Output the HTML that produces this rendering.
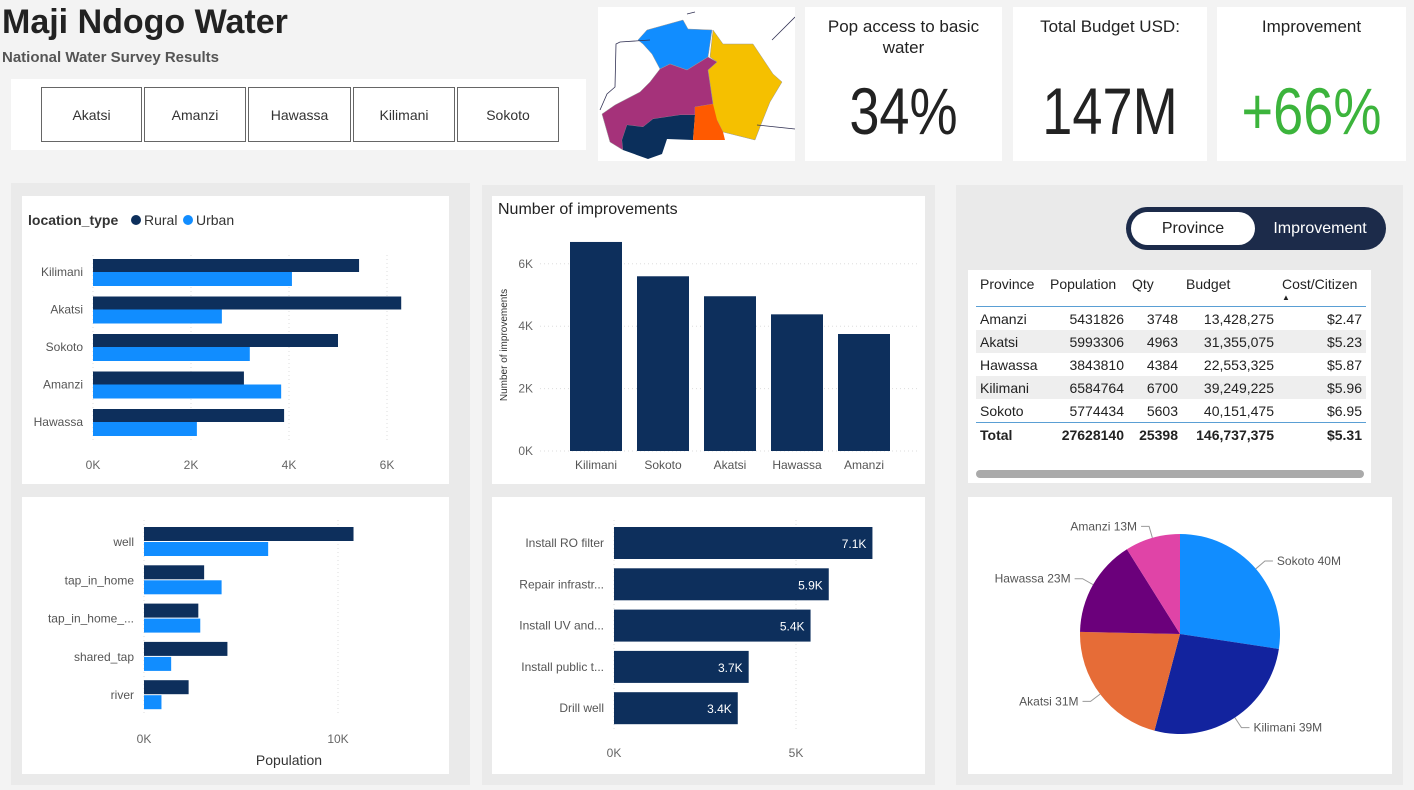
<!DOCTYPE html>
<html><head><meta charset="utf-8"><style>
body{margin:0;width:1414px;height:790px;background:#f3f3f3;font-family:"Liberation Sans",sans-serif;position:relative;overflow:hidden}
.a{position:absolute}
.w{position:absolute;background:#fff}
.g{position:absolute;background:#eaeaea}
.btn{position:absolute;top:87px;height:55px;border:1px solid #666;background:#fff;font-size:14px;color:#333;display:flex;align-items:center;justify-content:center;box-sizing:border-box}
.card{position:absolute;top:7px;height:154px;background:#fff;text-align:center;color:#222}
.card .t{font-size:17px;margin-top:9px;line-height:21px}
.card .v{position:absolute;left:0;right:0;top:64px;font-size:66px;line-height:80px;transform:scaleX(0.82)}
table{border-collapse:collapse;font-size:14px;color:#222}
td,th{padding:0 4px;height:23px}
th{font-weight:normal}
</style></head><body>
<div class="a" style="left:2px;top:0;font-size:34px;font-weight:bold;color:#222;line-height:44px">Maji Ndogo Water</div>
<div class="a" style="left:2px;top:49px;font-size:15px;font-weight:bold;color:#555">National Water Survey Results</div>
<div class="w" style="left:11px;top:79px;width:575px;height:71px"></div>
<div class="btn" style="left:41px;width:101px">Akatsi</div>
<div class="btn" style="left:144px;width:102px">Amanzi</div>
<div class="btn" style="left:248px;width:103px">Hawassa</div>
<div class="btn" style="left:353px;width:102px">Kilimani</div>
<div class="btn" style="left:457px;width:102px">Sokoto</div>

<div class="w" style="left:598px;top:7px;width:197px;height:154px">
<svg width="197" height="154">
<path d="M40,33 L49,23 L85,13 L90,22 L114,23 L110,50 L89,63 L72,57 L62,62 L54,47 L45,37Z" fill="#118dff" stroke="#999" stroke-width="0.5"/>
<path d="M115,23 L125,37 L155,37 L175,67 L184,75 L172,95 L162,120 L157,133 L125,125 L119,113 L110,107 L115,97 L110,63 L119,55 L112,50Z" fill="#f5c000" stroke="#999" stroke-width="0.5"/>
<path d="M62,62 L72,57 L89,63 L110,50 L119,55 L110,63 L115,97 L97,100 L97,108 L82,108 L55,112 L45,120 L29,118 L24,133 L25,143 L12,135 L4,107 L17,98 L42,85 L52,75Z" fill="#a5327a" stroke="#999" stroke-width="0.5"/>
<path d="M29,118 L45,120 L55,112 L82,108 L97,108 L95,133 L69,132 L64,147 L50,152 L25,143 L24,133Z" fill="#0b2f5b"/>
<path d="M97,100 L115,97 L119,113 L125,125 L127,133 L95,133 L97,108Z" fill="#ff5a00"/>
<path d="M52,33 L22,35 L18,37 L17,80 L9,87 L2,103 M89,7 L97,5 M174,33 L197,10 M159,118 L197,122" stroke="#335" fill="none" stroke-width="0.8"/>
</svg></div>
<div class="card" style="left:805px;width:197px"><div class="t">Pop access to basic<br>water</div><div class="v">34%</div></div>
<div class="card" style="left:1013px;width:194px"><div class="t">Total Budget USD:</div><div class="v">147M</div></div>
<div class="card" style="left:1217px;width:189px"><div class="t">Improvement</div><div class="v" style="color:#3cb43c">+66%</div></div>

<div class="g" style="left:11px;top:183px;width:459px;height:602px"></div>
<div class="g" style="left:482px;top:185px;width:453px;height:600px"></div>
<div class="g" style="left:956px;top:185px;width:447px;height:600px"></div>
<div class="w" style="left:22px;top:196px;width:427px;height:288px"></div>
<div class="w" style="left:22px;top:497px;width:427px;height:277px"></div>
<div class="w" style="left:492px;top:196px;width:433px;height:288px"></div>
<div class="w" style="left:492px;top:497px;width:433px;height:277px"></div>
<div class="w" style="left:968px;top:270px;width:403px;height:213px"></div>
<div class="w" style="left:968px;top:497px;width:424px;height:277px"></div>

<svg class="a" style="left:0;top:0" width="1414" height="790" id="charts" font-family="Liberation Sans, sans-serif"></svg>

<div class="a" style="left:1126px;top:207px;width:260px;height:43px;background:#1c2b4a;border-radius:22px">
<div class="a" style="left:5px;top:5px;width:124px;height:33px;background:#fff;border-radius:17px;color:#222;font-size:16px;text-align:center;line-height:33px">Province</div>
<div class="a" style="left:130px;top:5px;width:128px;height:33px;color:#fff;font-size:16px;text-align:center;line-height:33px">Improvement</div>
</div>

<div class="a" style="left:976px;top:276px">
<table>
<tr style="border-bottom:1px solid #5a9fd4"><th style="text-align:left;width:62px;height:30px;vertical-align:top">Province</th><th style="text-align:left;width:74px;vertical-align:top">Population</th><th style="text-align:left;width:46px;vertical-align:top">Qty</th><th style="text-align:left;width:88px;vertical-align:top">Budget</th><th style="text-align:left;width:80px;position:relative;vertical-align:top">Cost/Citizen<span style="position:absolute;left:4px;top:17px;font-size:8px">▲</span></th></tr>
<tr><td>Amanzi</td><td align="right">5431826</td><td align="right">3748</td><td align="right">13,428,275</td><td align="right">$2.47</td></tr>
<tr style="background:#eee"><td>Akatsi</td><td align="right">5993306</td><td align="right">4963</td><td align="right">31,355,075</td><td align="right">$5.23</td></tr>
<tr><td>Hawassa</td><td align="right">3843810</td><td align="right">4384</td><td align="right">22,553,325</td><td align="right">$5.87</td></tr>
<tr style="background:#eee"><td>Kilimani</td><td align="right">6584764</td><td align="right">6700</td><td align="right">39,249,225</td><td align="right">$5.96</td></tr>
<tr style="border-bottom:1px solid #5a9fd4"><td>Sokoto</td><td align="right">5774434</td><td align="right">5603</td><td align="right">40,151,475</td><td align="right">$6.95</td></tr>
<tr style="font-weight:bold"><td>Total</td><td align="right">27628140</td><td align="right">25398</td><td align="right">146,737,375</td><td align="right">$5.31</td></tr>
</table></div>
<div class="a" style="left:976px;top:470px;width:388px;height:8px;background:#aaa;border-radius:4px"></div>

<script>
const locCats=["Kilimani","Akatsi","Sokoto","Amanzi","Hawassa"];
const locRural=[5.43,6.29,5.0,3.08,3.9];
const locUrban=[4.06,2.63,3.2,3.84,2.12];
const locTicks=[0,2,4,6];
const srcCats=["well","tap_in_home","tap_in_home_...","shared_tap","river"];
const srcRural=[10.8,3.1,2.8,4.3,2.3];
const srcUrban=[6.4,4.0,2.9,1.4,0.9];
const srcTicks=[0,10];
const impCats=["Kilimani","Sokoto","Akatsi","Hawassa","Amanzi"];
const impVals=[6.7,5.6,4.96,4.38,3.75];
const impTicks=[0,2,4,6];
const typeCats=["Install RO filter","Repair infrastr...","Install UV and...","Install public t...","Drill well"];
const typeVals=[7.1,5.9,5.4,3.7,3.4];
const typeTicks=[0,5];
const pieCats=["Sokoto","Kilimani","Akatsi","Hawassa","Amanzi"];
const pieVals=[40,39,31,23,13];
const pieColors=["#118dff","#12239e","#e66c37","#6b007b","#e044a7"];

const svg=document.getElementById('charts');
const NS='http://www.w3.org/2000/svg';
function el(t,a,txt){const e=document.createElementNS(NS,t);for(const k in a)e.setAttribute(k,a[k]);if(txt!==undefined)e.textContent=txt;svg.appendChild(e);return e;}
const DARK="#0d2f5c",LIGHT="#118dff";

// chart 1
el('text',{x:28,y:225,'font-size':14,'font-weight':'bold',fill:'#333'},'location_type');
el('circle',{cx:136,cy:220,r:5,fill:DARK});
el('text',{x:144,y:225,'font-size':14,fill:'#333'},'Rural');
el('circle',{cx:188,cy:220,r:5,fill:LIGHT});
el('text',{x:196,y:225,'font-size':14,fill:'#333'},'Urban');
const x1=v=>93+v*49, y1=i=>272+i*37.5;
locTicks.forEach(t=>{el('line',{x1:x1(t),x2:x1(t),y1:255,y2:442,stroke:'#ddd','stroke-dasharray':'1,3'});
 const e=el('text',{x:x1(t),y:469,'font-size':12,fill:'#666','text-anchor':'middle'},t+'K');});
locCats.forEach((c,i)=>{const y=y1(i);
 const l=el('text',{x:83,y:y+4,'font-size':12,fill:'#555','text-anchor':'end'},c);
 const r=el('rect',{x:x1(0),y:y-13,width:x1(locRural[i])-x1(0),height:13,fill:DARK});
 const u=el('rect',{x:x1(0),y:y,width:x1(locUrban[i])-x1(0),height:14,fill:LIGHT});});

// chart 2
const x2=v=>144+v*19.4, y2=i=>542+i*38.3;
srcTicks.forEach(t=>{el('line',{x1:x2(t),x2:x2(t),y1:520,y2:715,stroke:'#ddd','stroke-dasharray':'1,3'});
 const e=el('text',{x:x2(t),y:743,'font-size':12,fill:'#666','text-anchor':'middle'},t+'K');});
el('text',{x:289,y:765,'font-size':14,fill:'#333','text-anchor':'middle'},'Population');
srcCats.forEach((c,i)=>{const y=y2(i);
 const l=el('text',{x:134,y:y+4,'font-size':12,fill:'#555','text-anchor':'end'},c);
 const r=el('rect',{x:x2(0),y:y-15,width:x2(srcRural[i])-x2(0),height:14,fill:DARK});
 const u=el('rect',{x:x2(0),y:y,width:x2(srcUrban[i])-x2(0),height:14,fill:LIGHT});});

// chart 3
el('text',{x:498,y:214,'font-size':16,fill:'#222'},'Number of improvements');
const y3=v=>451-v*31.2, x3=i=>596+i*67;
impTicks.forEach(t=>{el('line',{x1:540,x2:918,y1:y3(t),y2:y3(t),stroke:'#ddd','stroke-dasharray':'1,3'});
 const e=el('text',{x:533,y:y3(t)+4,'font-size':12,fill:'#666','text-anchor':'end'},t+'K');});
const yt=el('text',{x:0,y:0,'font-size':10,fill:'#333','text-anchor':'middle',transform:'translate(507,345) rotate(-90)'},'Number of improvements');
impCats.forEach((c,i)=>{const r=el('rect',{x:x3(i)-26,y:y3(impVals[i]),width:52,height:y3(0)-y3(impVals[i]),fill:DARK});
 const l=el('text',{x:x3(i),y:469,'font-size':12,fill:'#555','text-anchor':'middle'},c);});

// chart 4
const x4=v=>614+v*36.4, y4=i=>543+i*41.3;
typeTicks.forEach(t=>{el('line',{x1:x4(t),x2:x4(t),y1:520,y2:730,stroke:'#ddd','stroke-dasharray':'1,3'});
 const e=el('text',{x:x4(t),y:757,'font-size':12,fill:'#666','text-anchor':'middle'},t+'K');});
typeCats.forEach((c,i)=>{const y=y4(i);
 const l=el('text',{x:604,y:y+4,'font-size':12,fill:'#555','text-anchor':'end'},c);
 const r=el('rect',{x:x4(0),y:y-16,width:x4(typeVals[i])-x4(0),height:32,fill:DARK});
 const v=el('text',{x:x4(typeVals[i])-6,y:y+5,'font-size':12,fill:'#fff','text-anchor':'end'},typeVals[i].toFixed(1)+'K');});

// pie
const cx=1180,cy=634,R=100;const tot=pieVals.reduce((a,b)=>a+b,0);let ang=-Math.PI/2;
pieVals.forEach((v,i)=>{const a2=ang+v/tot*2*Math.PI;
 const p=el('path',{d:`M${cx},${cy} L${cx+R*Math.cos(ang)},${cy+R*Math.sin(ang)} A${R},${R} 0 ${a2-ang>Math.PI?1:0} 1 ${cx+R*Math.cos(a2)},${cy+R*Math.sin(a2)}Z`,fill:pieColors[i]});
 
 const m=(ang+a2)/2,c=Math.cos(m),s=Math.sin(m);
 const ex=cx+(R+12)*c,ey=cy+(R+12)*s,lx=ex+(c>0?8:-8);
 el('polyline',{points:`${cx+R*c},${cy+R*s} ${ex},${ey} ${lx},${ey}`,fill:'none',stroke:'#999'});
 const t=el('text',{x:lx+(c>0?4:-4),y:ey+4,'font-size':12,fill:'#555','text-anchor':c>0?'start':'end'},pieCats[i]+' '+v+'M');
 ang=a2;});
</script>
</body></html>
